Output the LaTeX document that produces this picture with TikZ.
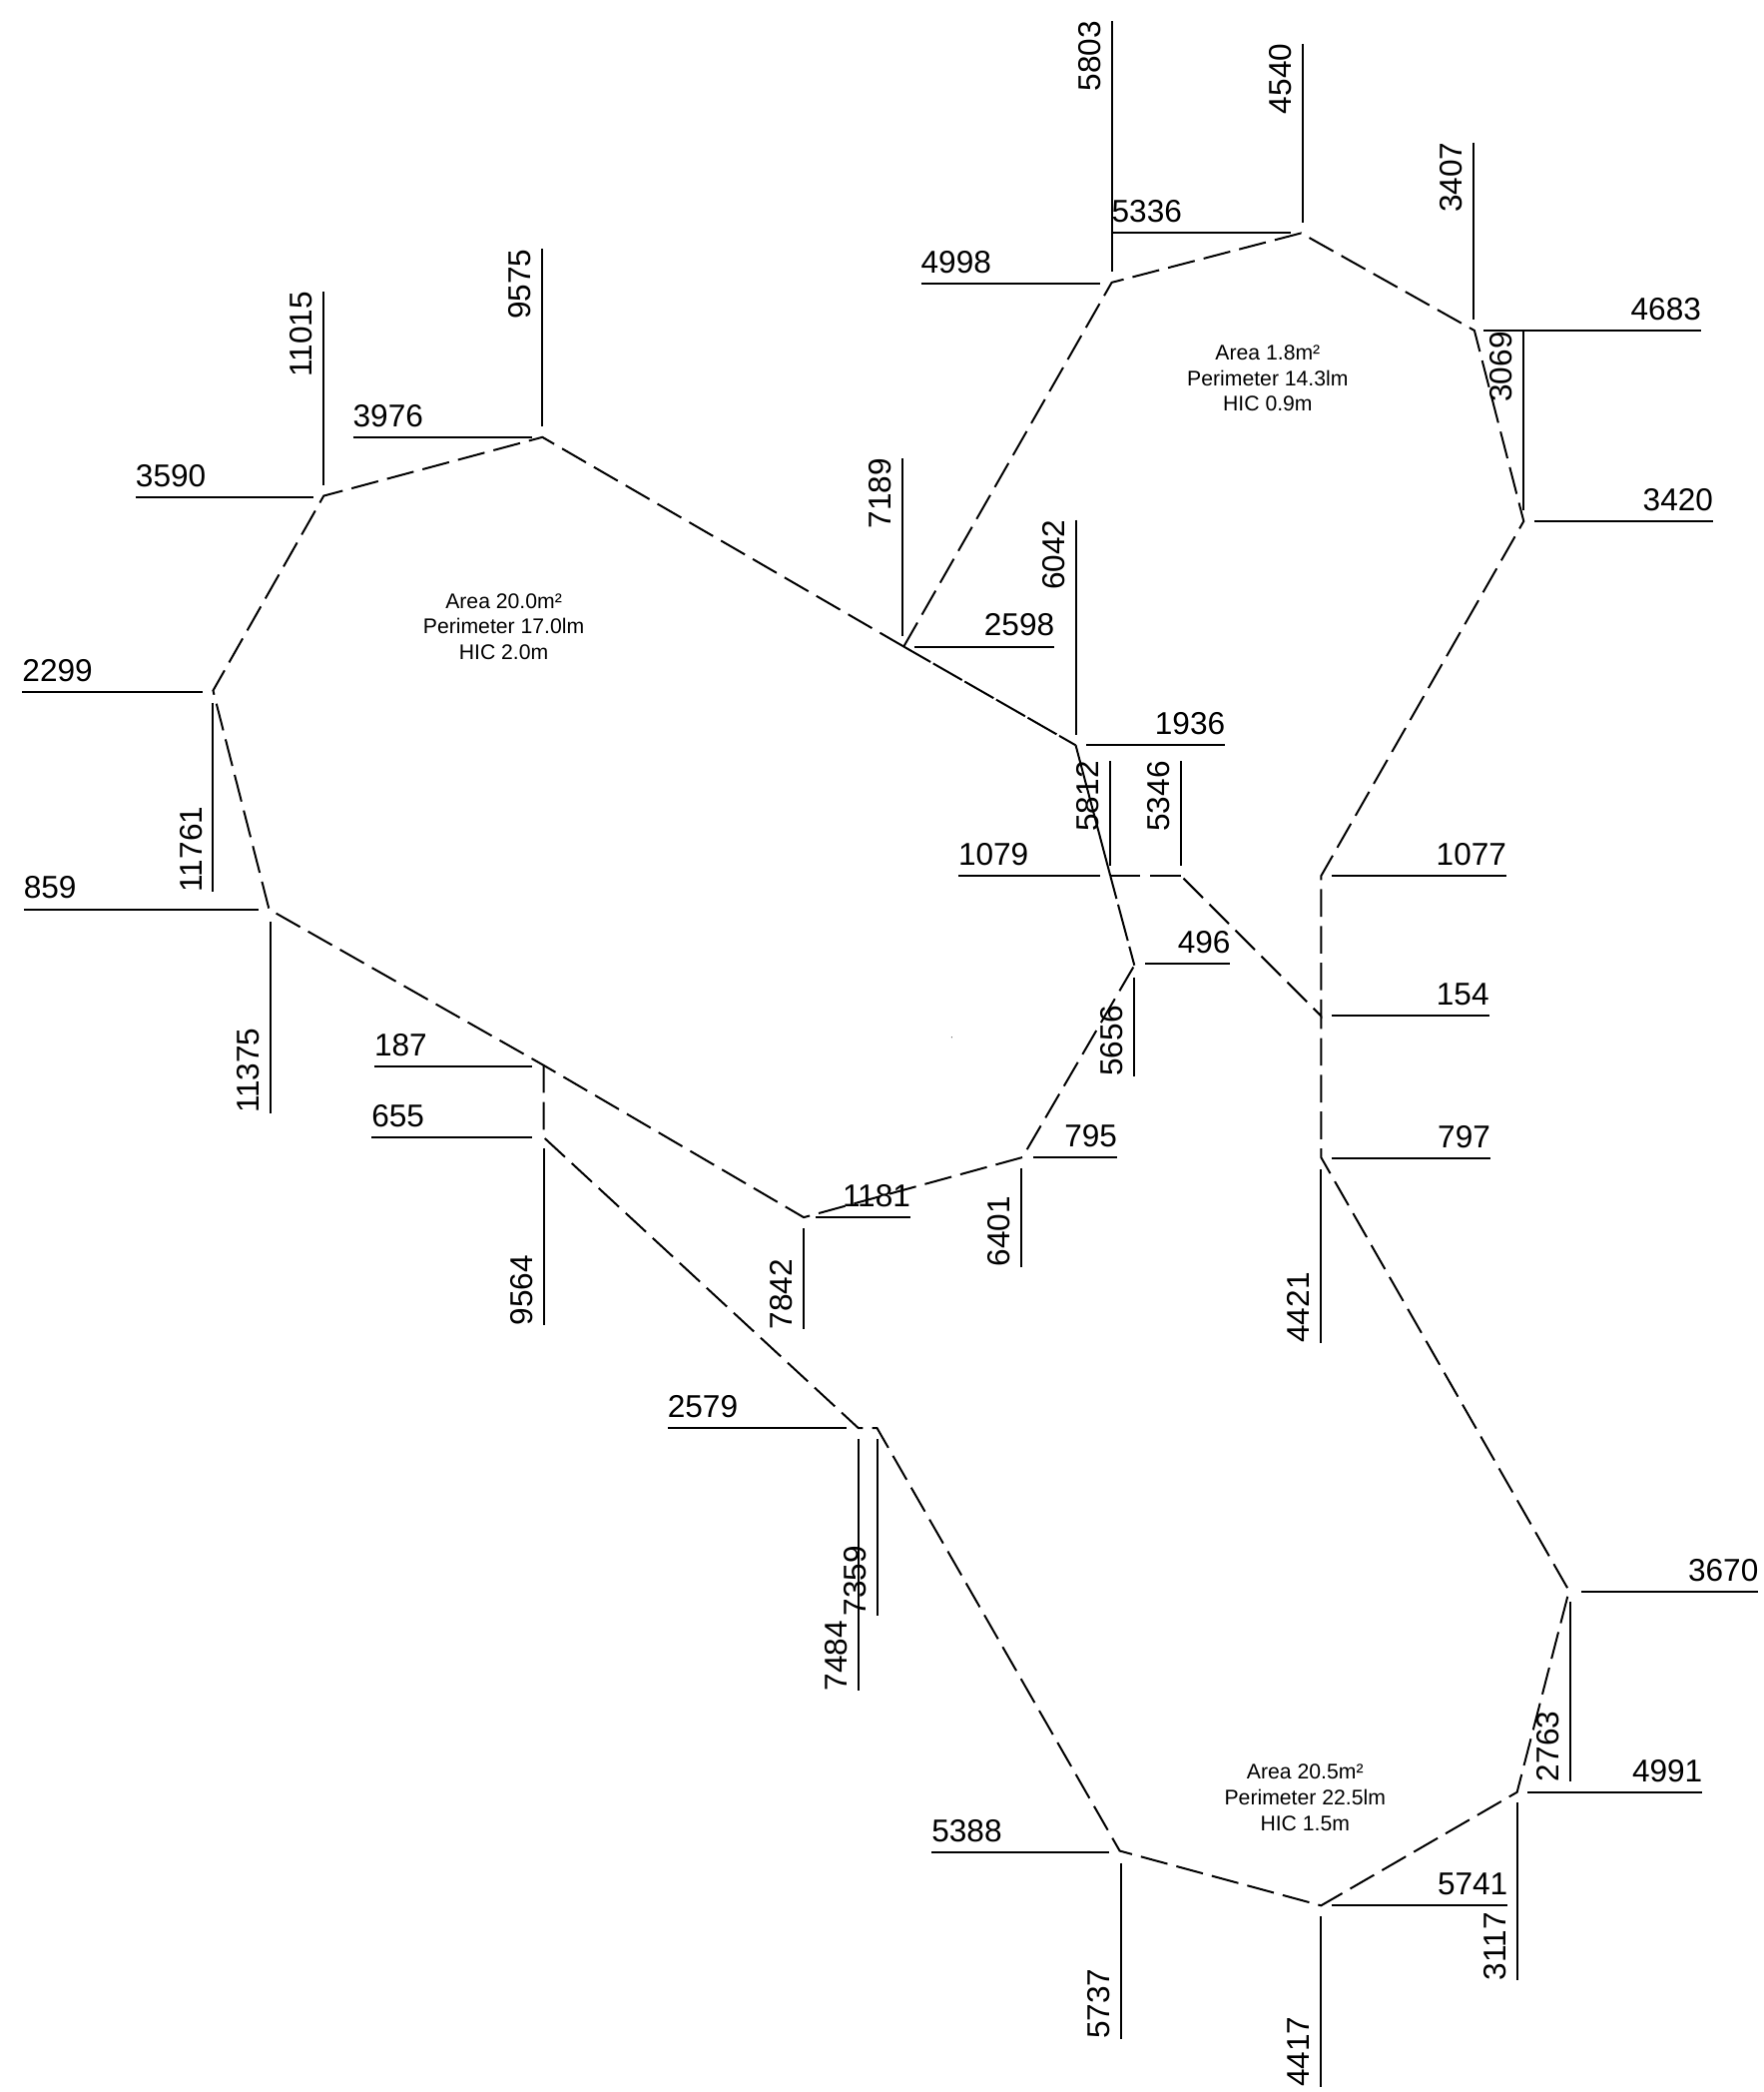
\documentclass[tikz,border=0pt]{standalone}
\usepackage{fontspec}
\setmainfont{Liberation Sans}
\tikzset{
  wall/.style={line width=1pt,dash pattern=on 13.8pt off 4.6pt,line join=miter},
  nearsolid/.style={line width=1pt,dash pattern=on 16.7pt off 1.5pt,dash phase=1.2pt},
  dim/.style={line width=1pt},
  lab/.style={inner sep=0pt,outer sep=0pt,font=\fontsize{15.8}{16}\selectfont},
  roomtxt/.style={inner sep=0pt,align=center,font=\fontsize{10.6}{12.8}\selectfont}
}
\newcommand{\hleft}[5]{% name y x1 x2 label: label flush with left end
  \coordinate (#1a) at (#3,#2); \coordinate (#1b) at (#4,#2);
  \draw[dim] (#1a) -- (#1b);
  \node[lab,anchor=base west] (#1) at (#3,#2-8) {#5};}
\newcommand{\hright}[5]{% label flush with right end
  \coordinate (#1a) at (#3,#2); \coordinate (#1b) at (#4,#2);
  \draw[dim] (#1a) -- (#1b);
  \node[lab,anchor=base east] (#1) at (#4,#2-8) {#5};}
\newcommand{\vtopdim}[5]{% name x y1 y2 label: label flush with top end
  \coordinate (#1a) at (#2,#3); \coordinate (#1b) at (#2,#4);
  \draw[dim] (#1a) -- (#1b);
  \node[lab,rotate=90,anchor=base east] (#1) at (#2-8.5,#3) {#5};}
\newcommand{\vbotdim}[5]{% label flush with bottom end
  \coordinate (#1a) at (#2,#3); \coordinate (#1b) at (#2,#4);
  \draw[dim] (#1a) -- (#1b);
  \node[lab,rotate=90,anchor=base west] (#1) at (#2-8.5,#4) {#5};}
\begin{document}
\begin{tikzpicture}[x=0.668pt,y=-0.668pt]
\useasboundingbox[fill=white] (0,0) rectangle (1323,1568.6);
\begin{scope}[shift={(0.8,0.8)}]
% vertices
\coordinate (a1) at (406,327);
\coordinate (a2) at (242,371);
\coordinate (a3) at (159,517);
\coordinate (a4) at (201,681);
\coordinate (a5) at (407,798);
\coordinate (a6) at (602,912);
\coordinate (a7) at (766,867);
\coordinate (a8) at (850,723);
\coordinate (a9) at (806,558);
\coordinate (a10) at (677,484);
\coordinate (b1) at (833,211);
\coordinate (b2) at (975,174);
\coordinate (b3) at (1105,247);
\coordinate (b4) at (1142,390);
\coordinate (b5) at (990,656);
\coordinate (b6) at (990,761);
\coordinate (b7) at (885,656);
\coordinate (b8) at (832,656);
\coordinate (c1) at (407,852);
\coordinate (c2) at (643,1070);
\coordinate (c3) at (657,1070);
\coordinate (c4) at (839,1387);
\coordinate (c5) at (990,1428);
\coordinate (c6) at (1137,1343);
\coordinate (c7) at (1176,1192);
\coordinate (c8) at (990,867);
% room outlines (walls shared by two rooms are drawn once)
\draw[wall] (a10) -- (a1) -- (a2) -- (a3) -- (a4) -- (a5) -- (a6) -- (a7) -- (a8);
\draw[wall] (a10) -- (b1) -- (b2) -- (b3) -- (b4) -- (b5) -- (b6) -- (b7);
\draw[wall] (a5) -- (c1) -- (c2) -- (c3) -- (c4) -- (c5) -- (c6) -- (c7) -- (c8) -- (b6);
\draw[nearsolid] (a10) -- (a9);
\draw[line width=1pt] (a9) -- (b8);
\draw[line width=1pt,dash pattern=on 11.8pt off 3pt on 18.8pt off 3pt on 20pt] (b8) -- (a8);
\draw[line width=1pt,dash pattern=on 14.7pt off 5.3pt on 30pt] (b8) -- (b7);
% dimension lines
\vtopdim{n5803}{833}{15}{203}{5803}
\hleft{n4998}{212}{690}{824}{4998}
\hleft{n5336}{174}{833}{967}{5336}
\vtopdim{n4540}{976}{32}{166}{4540}
\vtopdim{n3407}{1104}{106}{239}{3407}
\hright{n4683}{247}{1112}{1275}{4683}
\vtopdim{n3069}{1142}{248}{382}{3069}
\hright{n3420}{390}{1150}{1284}{3420}
\vtopdim{n7189}{676}{343}{476}{7189}
\hright{n2598}{484}{685}{790}{2598}
\vtopdim{n6042}{806}{389}{550}{6042}
\hright{n1936}{558}{814}{918}{1936}
\vtopdim{n5812}{832}{570}{648}{5812}
\vtopdim{n5346}{885}{570}{648}{5346}
\hleft{n1079}{656}{718}{824}{1079}
\hright{n1077}{656}{998}{1129}{1077}
\hright{n154}{761}{998}{1116}{154}
\hright{n797}{868}{998}{1117}{797}
\hright{n496}{722}{858}{922}{496}
\vbotdim{n5656}{850}{732}{806}{5656}
\hright{n795}{867}{774}{837}{795}
\vbotdim{n6401}{765}{875}{949}{6401}
\hright{n1181}{912}{611}{682}{1181}
\vbotdim{n7842}{602}{920}{996}{7842}
\hleft{n187}{799}{280}{398}{187}
\hleft{n655}{852}{278}{398}{655}
\vbotdim{n9564}{407}{860}{993}{9564}
\hleft{n2579}{1070}{500}{634}{2579}
\vbotdim{n7359}{657}{1078}{1211}{7359}
\vbotdim{n7484}{643}{1078}{1267}{7484}
\hleft{n5388}{1388}{698}{831}{5388}
\vbotdim{n5737}{840}{1396}{1528}{5737}
\vbotdim{n4417}{990}{1436}{1564}{4417}
\hright{n5741}{1428}{998}{1130}{5741}
\vbotdim{n3117}{1137}{1351}{1484}{3117}
\hright{n4991}{1343}{1145}{1276}{4991}
\vbotdim{n2763}{1177}{1200}{1335}{2763}
\hright{n3670}{1193}{1185}{1318}{3670}
\vbotdim{n4421}{990}{876}{1006}{4421}
\vtopdim{n9575}{406}{186}{319}{9575}
\hleft{n3976}{327}{264}{398}{3976}
\vtopdim{n11015}{242}{218}{363}{11015}
\hleft{n3590}{372}{101}{234}{3590}
\hleft{n2299}{518}{16}{151}{2299}
\vbotdim{n11761}{159}{526}{668}{11761}
\hleft{n859}{681}{17}{193}{859}
\vbotdim{n11375}{202}{690}{834}{11375}
% room labels
\node[roomtxt] (r1) at (377,469) {Area 20.0m²\\Perimeter 17.0lm\\HIC 2.0m};
\node[roomtxt] (r2) at (950,283) {Area 1.8m²\\Perimeter 14.3lm\\HIC 0.9m};
\node[roomtxt] (r3) at (978,1347) {Area 20.5m²\\Perimeter 22.5lm\\HIC 1.5m};
\fill (713,777) circle (0.4);
\end{scope}
\end{tikzpicture}
\end{document}
